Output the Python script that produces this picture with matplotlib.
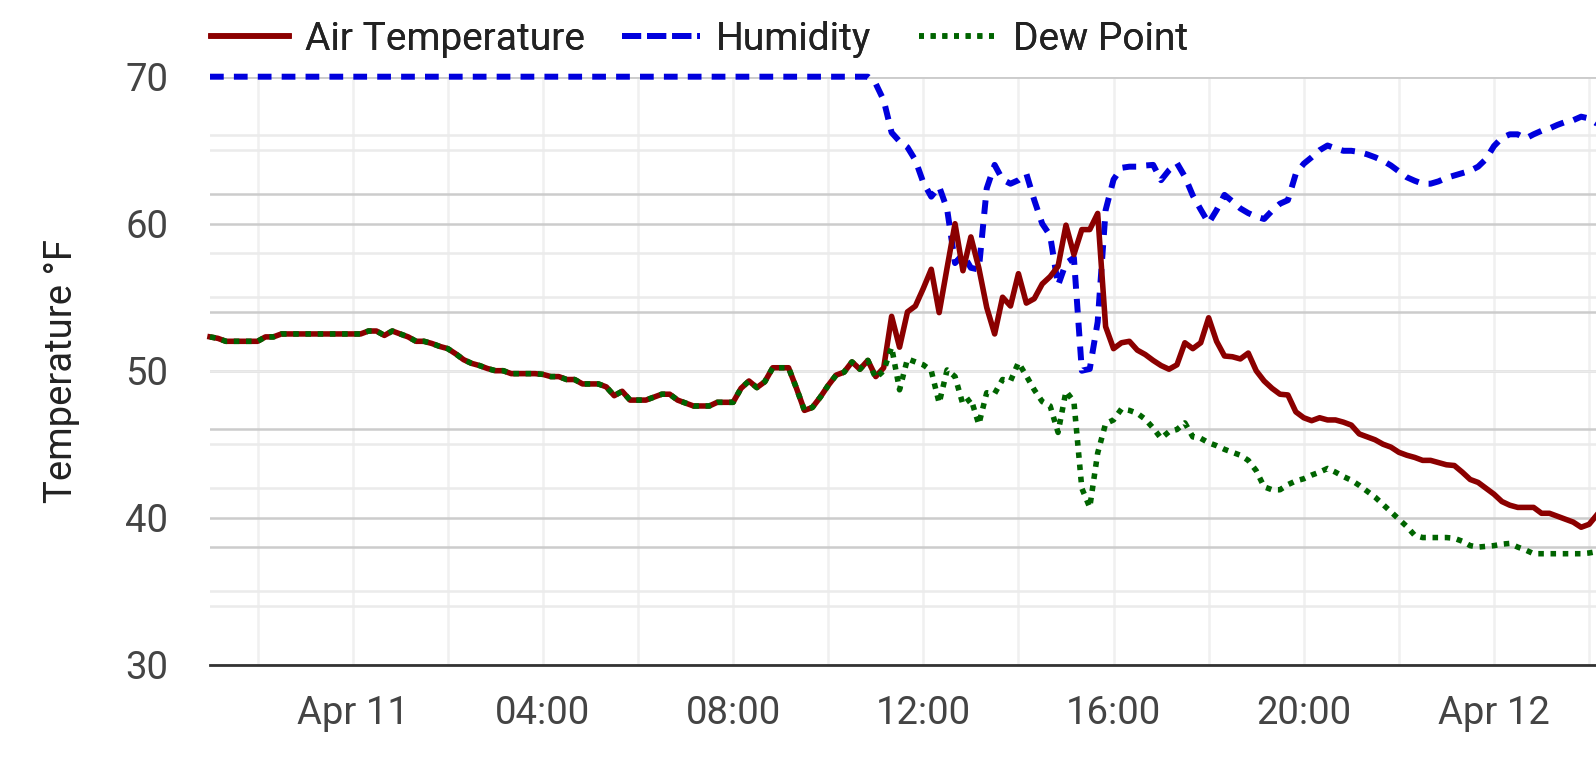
import matplotlib
matplotlib.use("Agg")
import matplotlib.pyplot as plt
import matplotlib.dates as mdates
from matplotlib.lines import Line2D
from matplotlib.ticker import FixedLocator, FuncFormatter
import pandas as pd

plt.rcParams['font.family'] = ['Roboto', 'DejaVu Sans']

# ---------------- data (10-minute readings, Apr 10 21:00 -> Apr 12 02:10) -------------
start_time = "2024-04-10 21:00"

air_temp = [
    52.3, 52.2, 52.0, 52.0, 52.0, 52.0,      # Apr 10 21h
    52.0, 52.3, 52.3, 52.5, 52.5, 52.5,      # 22h
    52.5, 52.5, 52.5, 52.5, 52.5, 52.5,      # 23h
    52.5, 52.5, 52.7, 52.7, 52.4, 52.7,      # Apr 11 00h
    52.5, 52.3, 52.0, 52.0, 51.85, 51.65,    # 01h
    51.5, 51.15, 50.75, 50.5, 50.35, 50.15,  # 02h
    50.0, 50.0, 49.8, 49.8, 49.8, 49.8,      # 03h
    49.75, 49.6, 49.6, 49.4, 49.4, 49.1,     # 04h
    49.1, 49.1, 48.9, 48.3, 48.6, 48.0,      # 05h
    48.0, 48.0, 48.2, 48.4, 48.4, 48.0,      # 06h
    47.8, 47.6, 47.6, 47.6, 47.85, 47.85,    # 07h
    47.85, 48.8, 49.3, 48.85, 49.25, 50.2,   # 08h
    50.2, 50.2, 48.8, 47.3, 47.5, 48.2,      # 09h
    49.0, 49.7, 49.9, 50.6, 50.1, 50.7,      # 10h
    49.6, 50.2, 53.7, 51.6, 54.0, 54.4,      # 11h
    55.6, 56.9, 53.95, 57.0, 60.0, 56.8,     # 12h
    59.1, 57.0, 54.3, 52.5, 55.0, 54.4,      # 13h
    56.6, 54.6, 54.9, 55.9, 56.4, 57.1,      # 14h
    59.9, 57.9, 59.6, 59.6, 60.7, 53.0,      # 15h
    51.5, 51.9, 52.0, 51.4, 51.1, 50.7,      # 16h
    50.35, 50.1, 50.4, 51.9, 51.5, 51.9,     # 17h
    53.6, 52.0, 51.0, 50.95, 50.8, 51.2,     # 18h
    50.0, 49.3, 48.8, 48.4, 48.35, 47.2,     # 19h
    46.8, 46.6, 46.8, 46.65, 46.65, 46.5,    # 20h
    46.3, 45.7, 45.5, 45.3, 45.0, 44.8,      # 21h
    44.45, 44.25, 44.1, 43.9, 43.9, 43.75,   # 22h
    43.6, 43.55, 43.1, 42.6, 42.4, 42.0,     # 23h
    41.6, 41.1, 40.85, 40.7, 40.7, 40.7,     # Apr 12 00h
    40.3, 40.3, 40.1, 39.9, 39.7, 39.35,     # 01h
    39.55, 40.2,                             # 02h
]

dew_point = [
    52.3, 52.2, 52.0, 52.0, 52.0, 52.0,      # Apr 10 21h
    52.0, 52.3, 52.3, 52.5, 52.5, 52.5,      # 22h
    52.5, 52.5, 52.5, 52.5, 52.5, 52.5,      # 23h
    52.5, 52.5, 52.7, 52.7, 52.4, 52.7,      # Apr 11 00h
    52.5, 52.3, 52.0, 52.0, 51.85, 51.65,    # 01h
    51.5, 51.15, 50.75, 50.5, 50.35, 50.15,  # 02h
    50.0, 50.0, 49.8, 49.8, 49.8, 49.8,      # 03h
    49.75, 49.6, 49.6, 49.4, 49.4, 49.1,     # 04h
    49.1, 49.1, 48.9, 48.3, 48.6, 48.0,      # 05h
    48.0, 48.0, 48.2, 48.4, 48.4, 48.0,      # 06h
    47.8, 47.6, 47.6, 47.6, 47.85, 47.85,    # 07h
    47.85, 48.8, 49.3, 48.85, 49.25, 50.2,   # 08h
    50.2, 50.2, 48.8, 47.3, 47.5, 48.2,      # 09h
    49.0, 49.7, 49.9, 50.6, 50.1, 50.7,      # 10h
    49.5, 50.0, 51.6, 48.7, 50.8, 50.6,      # 11h
    50.4, 50.0, 47.8, 50.05, 49.6, 47.7,     # 12h
    48.1, 46.35, 48.5, 48.45, 49.4, 49.3,    # 13h
    50.55, 49.65, 48.7, 47.9, 47.6, 45.8,    # 14h
    48.6, 47.9, 42.0, 40.7, 44.4, 46.4,      # 15h
    46.65, 47.4, 47.3, 47.1, 46.7, 46.1,     # 16h
    45.4, 45.85, 46.0, 46.45, 45.5, 45.4,    # 17h
    45.1, 44.9, 44.65, 44.45, 44.25, 43.9,   # 18h
    43.2, 42.1, 41.9, 41.9, 42.25, 42.5,     # 19h
    42.65, 42.9, 43.1, 43.35, 43.1, 42.8,    # 20h
    42.55, 42.2, 41.8, 41.4, 40.9, 40.4,     # 21h
    39.9, 39.4, 38.8, 38.65, 38.65, 38.65,   # 22h
    38.65, 38.6, 38.4, 38.1, 38.0, 38.05,    # 23h
    38.1, 38.2, 38.25, 38.0, 37.8, 37.55,    # Apr 12 00h
    37.55, 37.55, 37.55, 37.55, 37.55, 37.55,  # 01h
    37.6, 37.7,                              # 02h
]

humidity = [
    100, 100, 100, 100, 100, 100,            # Apr 10 21h
    100, 100, 100, 100, 100, 100,            # 22h
    100, 100, 100, 100, 100, 100,            # 23h
    100, 100, 100, 100, 100, 100,            # Apr 11 00h
    100, 100, 100, 100, 100, 100,            # 01h
    100, 100, 100, 100, 100, 100,            # 02h
    100, 100, 100, 100, 100, 100,            # 03h
    100, 100, 100, 100, 100, 100,            # 04h
    100, 100, 100, 100, 100, 100,            # 05h
    100, 100, 100, 100, 100, 100,            # 06h
    100, 100, 100, 100, 100, 100,            # 07h
    100, 100, 100, 100, 100, 100,            # 08h
    100, 100, 100, 100, 100, 100,            # 09h
    100, 100, 100, 100, 100, 100,            # 10h
    98.8, 96.0, 90.5, 89.0, 88.0, 85.8,      # 11h
    82.0, 79.6, 81.3, 77.5, 68.3, 69.8,      # 12h
    67.5, 67.2, 81.0, 85.0, 82.5, 81.8,      # 13h
    82.4, 83.5, 79.0, 75.0, 73.0, 64.5,      # 14h
    68.3, 69.2, 50.0, 50.3, 58.3, 77.3,      # 15h
    82.5, 84.5, 84.7, 84.7, 84.9, 85.0,      # 16h
    82.4, 84.1, 85.3, 83.0, 79.8, 77.4,      # 17h
    75.1, 77.3, 79.9, 78.8, 77.6, 76.8,      # 18h
    76.2, 75.8, 77.2, 78.4, 79.0, 83.5,      # 19h
    85.2, 86.3, 87.5, 88.3, 87.8, 87.4,      # 20h
    87.4, 87.2, 86.8, 86.3, 85.7, 84.9,      # 21h
    83.9, 82.9, 82.3, 81.8, 81.8, 82.2,      # 22h
    82.8, 83.2, 83.6, 84.0, 84.7, 86.0,      # 23h
    88.2, 89.6, 90.2, 90.2, 89.5, 90.2,      # Apr 12 00h
    90.8, 91.2, 91.8, 92.3, 92.6, 93.2,      # 01h
    92.9, 92.0,                              # 02h
]

series_labels = ["Air Temperature", "Humidity", "Dew Point"]
temp_ticks = [30, 40, 50, 60, 70]
temp_minor_ticks = [35, 45, 55, 65]
hum_ticks = [20, 40, 60, 80, 100]
hum_minor_ticks = [10, 30, 50, 70, 90]

times = pd.date_range(start_time, periods=len(air_temp), freq="10min")

# ---------------- styling ----------------
C_TEMP = "#8b0000"
C_HUM = "#0000dd"
C_DEW = "#006400"
GRID_MAJOR = "#cccccc"
GRID_MINOR = "#ebebeb"
GRID_V = "#f0f0f0"
FS = 27.5
FS_LEG = 28

W, H = 1596, 764
fig = plt.figure(figsize=(W / 100, H / 100), dpi=100)
ax_left, ax_right = 210, 1597
ax_top, ax_bot = 76.7, 664.7
rect = [ax_left / W, 1 - ax_bot / H, (ax_right - ax_left) / W, (ax_bot - ax_top) / H]
ax = fig.add_axes(rect)

ax.set_xlim(times[0], times[-1])
ax.set_ylim(30, 70)
ax.yaxis.set_major_locator(FixedLocator(temp_ticks))
ax.yaxis.set_minor_locator(FixedLocator(temp_minor_ticks))
ax.xaxis.set_major_locator(mdates.HourLocator(byhour=[0, 4, 8, 12, 16, 20]))
ax.xaxis.set_minor_locator(mdates.HourLocator(byhour=[2, 6, 10, 14, 18, 22]))


def fmt_time(x, pos=None):
    d = mdates.num2date(x)
    return d.strftime("%b %d") if d.hour == 0 and d.minute == 0 else d.strftime("%H:%M")


ax.xaxis.set_major_formatter(FuncFormatter(fmt_time))
ax.set_axisbelow(True)
ax.grid(which="both", axis="x", color=GRID_V, lw=1.8)
ax.grid(which="major", axis="y", color=GRID_MAJOR, lw=1.8)
ax.grid(which="minor", axis="y", color=GRID_MINOR, lw=1.8)
ax.tick_params(axis="both", which="both", length=0, labelsize=FS, labelcolor="#444444")
ax.tick_params(axis="y", pad=30.2)
ax.tick_params(axis="x", pad=22.0)
for s in ["left", "right", "top"]:
    ax.spines[s].set_visible(False)
ax.spines["bottom"].set_color("#333333")
ax.spines["bottom"].set_linewidth(2.0)
ax.spines["bottom"].set_zorder(5)

# humidity axis (its right-hand labels fall outside the picture)
ax2 = ax.twinx()
ax2.set_ylim(0, 100)
ax2.yaxis.set_major_locator(FixedLocator(hum_ticks))
ax2.yaxis.set_minor_locator(FixedLocator(hum_minor_ticks))
ax2.set_axisbelow(True)
ax2.grid(which="major", axis="y", color=GRID_MAJOR, lw=1.8)
ax2.grid(which="minor", axis="y", color=GRID_MINOR, lw=1.8)
ax2.tick_params(axis="y", which="both", length=0, right=False, labelright=False)
for s in ax2.spines.values():
    s.set_visible(False)
ax2.plot(times, humidity, color=C_HUM, lw=4.3, dashes=(2.3, 1.7),
         dash_capstyle="butt", clip_on=False, zorder=3)

# temperature lines on top
ax3 = ax.twinx()
ax3.set_ylim(30, 70)
ax3.axis("off")
ax3.plot(times, air_temp, color=C_TEMP, lw=4.0, solid_joinstyle="round", clip_on=False, zorder=3)
ax3.plot(times, dew_point, color=C_DEW, lw=4.0, dashes=(1.0, 1.2),
         dash_capstyle="butt", clip_on=False, zorder=4)

# legend: one entry per box so each sits where the reference places it
handles = [
    Line2D([], [], color=C_TEMP, lw=4.0),
    Line2D([], [], color=C_HUM, lw=4.3, dashes=(3.2, 1.0), dash_capstyle="butt"),
    Line2D([], [], color=C_DEW, lw=4.0, dashes=(0.9, 1.2), dash_capstyle="butt"),
]
legend_x = [211, 622, 919]
for hnd, lab, lx in zip(handles, series_labels, legend_x):
    leg = fig.legend([hnd], [lab], loc="center left",
                     bbox_to_anchor=(lx / W, 1 - 39.5 / H), frameon=False,
                     fontsize=FS_LEG, handlelength=2.0, handletextpad=0.42,
                     borderpad=0, borderaxespad=0, labelcolor="#222222")
    fig.add_artist(leg)

fig.text(72 / W, 1 - (ax_top + ax_bot) / 2 / H, "Temperature °F", rotation=90,
         rotation_mode="anchor", ha="center", va="baseline", fontsize=FS, color="#222222")

fig.savefig("out.png", dpi=100)
